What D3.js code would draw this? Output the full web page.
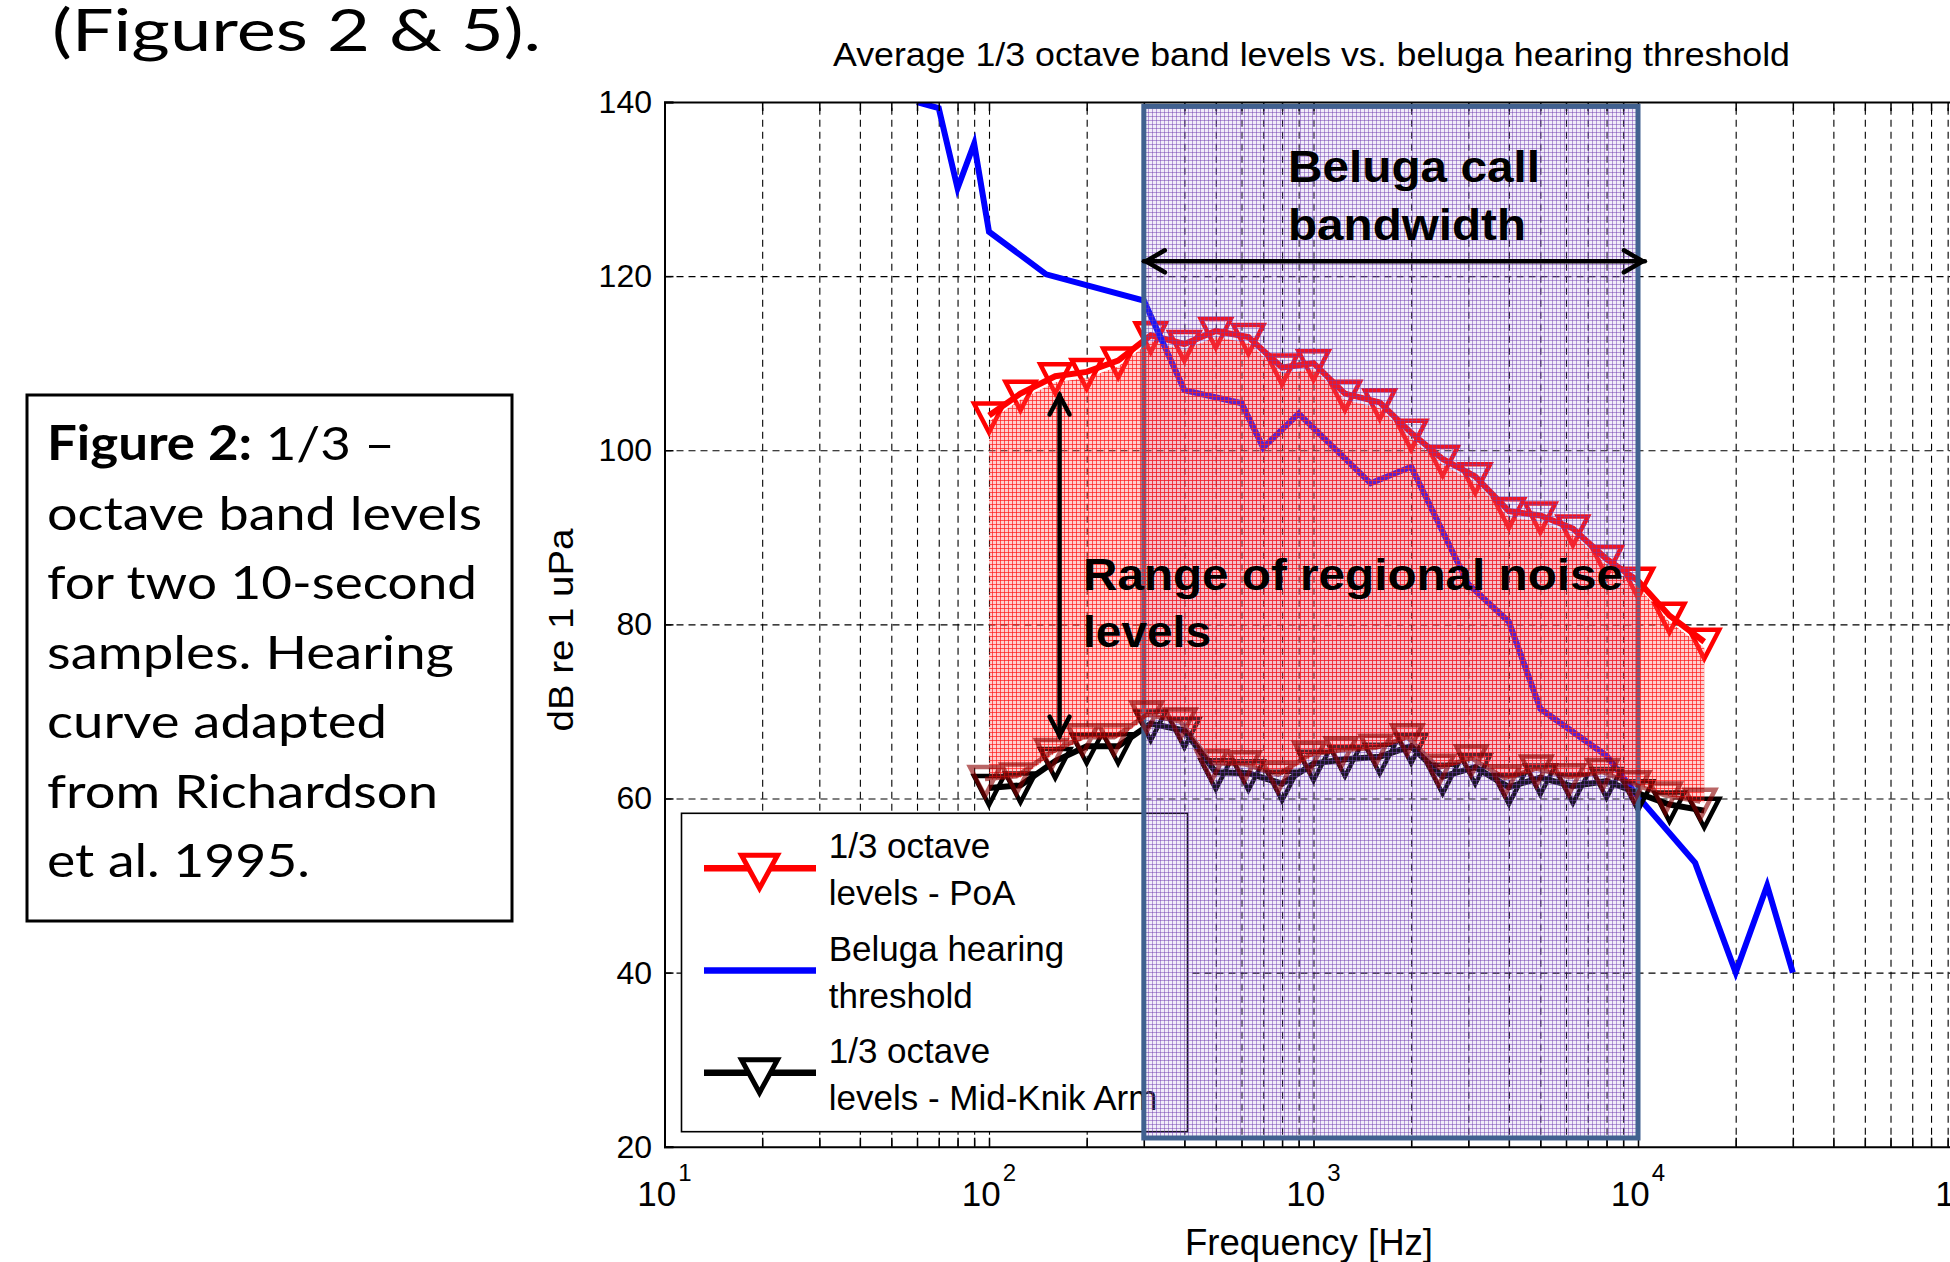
<!DOCTYPE html>
<html><head><meta charset="utf-8">
<script src="https://cdn.jsdelivr.net/npm/d3@7"></script>
<style>
body{margin:0;background:#fff;}
svg{display:block;}
</style></head><body>
<svg id="c" width="1950" height="1262" font-family="'Liberation Sans', Arial, sans-serif"></svg>
<script>
// ---------------- data ----------------
const freqs = [100,125,160,200,250,315,400,500,630,800,1000,1250,1600,2000,2500,3150,4000,5000,6300,8000,10000,12500,16000];
const poaLevels = [104,106.5,108.5,109,110.3,113.2,112.2,113.7,113,109.5,110,106.5,105.5,102,99,97,93,92.5,91,87.5,85,81,78];
const knikLevels = [61.2,61.5,64.3,66,66,68.6,67.8,63,62.9,61.7,64,64.5,64.8,66,62.5,63.6,61.3,62.4,61.4,62,60.6,59.3,58.6];
const thresholdFreqs = [60,70,80,90,100,150,300,400,600,700,900,1500,2000,3000,4000,5000,8000,10000,15000,20000,25000,30000];
const thresholdLevels = [140,139.3,130.1,135.2,125.1,120.2,117.2,106.9,105.4,100.3,104.2,96.2,98.1,84.6,80.3,70.3,64.9,60.2,52.6,40,50,40];
const yTicks = [20,40,60,80,100,120,140];
const xDecades = [10,100,1000,10000,100000];
const xExponents = ["1","2","3","4","5"];
const callBand = [300,10000];          // beluga call bandwidth (Hz)
const callBandLevels = [21,139.5];     // shaded band extent (dB)
const callArrow = {from:300,to:10500,level:121.7};
const rangeArrow = {freq:165,from:106.4,to:67.1};
const legendLabels = [["1/3 octave","levels - PoA"],["Beluga hearing","threshold"],["1/3 octave","levels - Mid-Knik Arm"]];
const legendColors = ["#ff0000","#0000ff","#000000"];
const legendMarkers = [true,false,true];
const captionLines = ["octave band levels","for two 10-second","samples. Hearing","curve adapted","from Richardson","et al. 1995."];
const captionWidths = [435,430,407,340,391,263];

// ---------------- layout ----------------
const svg = d3.select("#c");
const plot = {left:664.5,right:1962.5,top:102,bottom:1146.7};
const x = d3.scaleLog().domain([10,100000]).range([plot.left,plot.right]);
const y = d3.scaleLinear().domain([20,140]).range([plot.bottom,plot.top]);

const defs = svg.append("defs");
defs.append("clipPath").attr("id","plotClip").append("rect")
  .attr("x",plot.left).attr("y",plot.top).attr("width",plot.right-plot.left).attr("height",plot.bottom-plot.top);
const rp = defs.append("pattern").attr("id","redPat").attr("width",4).attr("height",4).attr("patternUnits","userSpaceOnUse");
rp.append("rect").attr("width",4).attr("height",4).attr("fill","rgba(255,80,80,0.28)");
rp.append("rect").attr("width",4).attr("height",1).attr("fill","rgba(255,25,25,0.7)");
rp.append("rect").attr("width",1).attr("height",4).attr("fill","rgba(255,25,25,0.7)");
const pp = defs.append("pattern").attr("id","purPat").attr("width",4).attr("height",4).attr("patternUnits","userSpaceOnUse");
pp.append("rect").attr("width",4).attr("height",4).attr("fill","rgba(170,135,215,0.16)");
pp.append("rect").attr("width",4).attr("height",1).attr("fill","rgba(110,60,175,0.48)");
pp.append("rect").attr("width",1).attr("height",4).attr("fill","rgba(110,60,175,0.48)");

// ---------------- grid ----------------
const minorX = [];
[10,100,1000,10000].forEach(d=>{for(let k=1;k<10;k++) minorX.push(d*k);});
minorX.push(100000);
const gx = svg.append("g").attr("transform",`translate(0,${plot.bottom})`)
  .call(d3.axisBottom(x).tickValues(minorX.filter(v=>v>10&&v<100000)).tickSize(-(plot.bottom-plot.top)).tickFormat(""));
gx.select(".domain").remove();
gx.selectAll("line").attr("stroke","#000").attr("stroke-width",1.1).attr("stroke-dasharray","7,5");
const gy = svg.append("g").attr("transform",`translate(${plot.left},0)`)
  .call(d3.axisLeft(y).tickValues(yTicks.filter(v=>v>20&&v<140)).tickSize(-(plot.right-plot.left)).tickFormat(""));
gy.select(".domain").remove();
gy.selectAll("line").attr("stroke","#000").attr("stroke-width",1.1).attr("stroke-dasharray","7,5");

// ---------------- data layer ----------------
const data = svg.append("g").attr("clip-path","url(#plotClip)");
const poaPts = d3.zip(freqs,poaLevels), knikPts = d3.zip(freqs,knikLevels), thrPts = d3.zip(thresholdFreqs,thresholdLevels);
const line = d3.line().x(d=>x(d[0])).y(d=>y(d[1]));
const tri = "M-15,-12L15,-12L0,17Z";
function series(pts,color,markers){
  const g = data.append("g");
  g.append("path").datum(pts).attr("d",line).attr("fill","none").attr("stroke",color).attr("stroke-width",6).attr("stroke-linejoin","miter");
  if(markers) g.selectAll("path.m").data(pts).enter().append("path").attr("class","m")
    .attr("d",tri).attr("transform",d=>`translate(${x(d[0])},${y(d[1])})`)
    .attr("fill","none").attr("stroke",color).attr("stroke-width",4.5);
}
series(poaPts,"#ff0000",true);
series(thrPts,"#0000ff",false);
series(knikPts,"#000000",true);

// ---------------- axes ----------------
const ax = svg.append("g");
const bt = ax.append("g").attr("transform",`translate(0,${plot.bottom})`).call(d3.axisBottom(x).tickValues(minorX).tickSize(-9).tickFormat(""));
const tp = ax.append("g").attr("transform",`translate(0,${plot.top})`).call(d3.axisTop(x).tickValues(minorX).tickSize(-9).tickFormat(""));
const lf = ax.append("g").attr("transform",`translate(${plot.left},0)`).call(d3.axisLeft(y).tickValues(yTicks).tickSize(-9).tickFormat(""));
[bt,tp,lf].forEach(g=>{g.select(".domain").attr("stroke","#000").attr("stroke-width",2);g.selectAll("line").attr("stroke","#000").attr("stroke-width",1.5);});

// y tick labels
svg.append("g").selectAll("text").data(yTicks).enter().append("text")
  .attr("x",652).attr("y",d=>y(d)+11).attr("text-anchor","end").attr("font-size",32).text(d=>d);
// x tick labels
const xl = svg.append("g").selectAll("text").data(xDecades).enter().append("text")
  .attr("x",d=>x(d)).attr("y",1206).attr("text-anchor","middle").attr("font-size",35);
xl.append("tspan").text("10");
xl.append("tspan").attr("font-size",24).attr("dy",-25).attr("dx",2).text((d,i)=>xExponents[i]);

// ---------------- legend ----------------
const lg = svg.append("g");
lg.append("rect").attr("x",681.5).attr("y",813.3).attr("width",506).attr("height",318.4).attr("fill","#fff").attr("stroke","#000").attr("stroke-width",1.6);
legendLabels.forEach((lab,i)=>{
  const cy = 868.3 + i*102.2;
  lg.append("line").attr("x1",704).attr("x2",816).attr("y1",cy).attr("y2",cy).attr("stroke",legendColors[i]).attr("stroke-width",6.5);
  if(legendMarkers[i]) lg.append("path").attr("d","M-18,-13L18,-13L0,20Z").attr("transform",`translate(759.5,${cy})`)
    .attr("fill","#fff").attr("stroke",legendColors[i]).attr("stroke-width",5);
  lab.forEach((t,j)=>lg.append("text").attr("x",828.7).attr("y",cy-10+j*47).attr("font-size",35).text(t));
});

// ---------------- call band overlay ----------------
svg.append("rect").attr("x",x(callBand[0])).attr("y",y(callBandLevels[1]))
  .attr("width",x(callBand[1])-x(callBand[0])).attr("height",y(callBandLevels[0])-y(callBandLevels[1]))
  .attr("fill","url(#purPat)").attr("stroke","#41618f").attr("stroke-width",5);

// ---------------- regional noise range fill (pasted layer) ----------------
const fillG = svg.append("g").attr("clip-path","url(#plotClip)");
const area = d3.area().x(d=>x(d[0])).y0(d=>y(d[2])-8).y1(d=>y(d[1])+6);
fillG.append("path").datum(freqs.map((f,i)=>[f,poaLevels[i],knikLevels[i]]))
  .attr("d",area).attr("fill","url(#redPat)");
const sh = fillG.append("g").attr("transform","translate(-4,-9)").attr("opacity",0.6);
sh.append("path").datum(knikPts).attr("d",line).attr("fill","none").attr("stroke","#8b0000").attr("stroke-width",4.5);
sh.selectAll("path.m").data(knikPts).enter().append("path").attr("class","m")
  .attr("d",tri).attr("transform",d=>`translate(${x(d[0])},${y(d[1])})`)
  .attr("fill","none").attr("stroke","#8b0000").attr("stroke-width",4.5);

// ---------------- annotations ----------------
const an = svg.append("g").attr("stroke","#000").attr("stroke-width",4.5).attr("fill","none").attr("stroke-linecap","round");
const ay = y(callArrow.level), ax1 = x(callArrow.from), ax2 = x(callArrow.to);
an.append("line").attr("x1",ax1).attr("x2",ax2).attr("y1",ay).attr("y2",ay);
an.append("path").attr("d",`M${ax1+21},${ay-11}L${ax1+2},${ay}L${ax1+21},${ay+11}`);
an.append("path").attr("d",`M${ax2-21},${ay-11}L${ax2-2},${ay}L${ax2-21},${ay+11}`);
const rx = x(rangeArrow.freq), ry1 = y(rangeArrow.from), ry2 = y(rangeArrow.to);
an.append("line").attr("x1",rx).attr("x2",rx).attr("y1",ry1).attr("y2",ry2);
an.append("path").attr("d",`M${rx-10},${ry1+20}L${rx},${ry1+1}L${rx+10},${ry1+20}`);
an.append("path").attr("d",`M${rx-10},${ry2-20}L${rx},${ry2-1}L${rx+10},${ry2-20}`);

const bold = (t,xx,yy,w)=>svg.append("text").attr("x",xx).attr("y",yy).attr("font-size",45).attr("font-weight","bold")
  .attr("textLength",w).attr("lengthAdjust","spacingAndGlyphs").text(t);
bold("Beluga call",1288,182,252);
bold("bandwidth",1288,240,238);
bold("Range of regional noise",1083,590,540);
bold("levels",1083,647,128);

// ---------------- titles ----------------
svg.append("text").attr("x",1311.5).attr("y",66).attr("text-anchor","middle").attr("font-size",34)
  .attr("textLength",957).attr("lengthAdjust","spacingAndGlyphs").text("Average 1/3 octave band levels vs. beluga hearing threshold");
svg.append("text").attr("x",1309).attr("y",1255).attr("text-anchor","middle").attr("font-size",37)
  .attr("textLength",248).attr("lengthAdjust","spacingAndGlyphs").text("Frequency [Hz]");
svg.append("text").attr("transform","translate(573,630) rotate(-90)").attr("text-anchor","middle").attr("font-size",35)
  .attr("textLength",203).attr("lengthAdjust","spacingAndGlyphs").text("dB re 1 uPa");

// ---------------- slide text ----------------
const slideFont = "Lato, 'Open Sans', sans-serif";
svg.append("text").attr("x",52).attr("y",51).style("font-family",slideFont).attr("font-size",58)
  .attr("textLength",489).attr("lengthAdjust","spacingAndGlyphs").text("(Figures 2 & 5).");
svg.append("rect").attr("x",27).attr("y",395).attr("width",485).attr("height",526).attr("fill","none").attr("stroke","#000").attr("stroke-width",3);
const c1 = svg.append("text").attr("x",47).attr("y",460).style("font-family",slideFont).attr("font-size",47)
  .attr("textLength",348).attr("lengthAdjust","spacingAndGlyphs");
c1.append("tspan").attr("font-weight","bold").text("Figure 2:");
c1.append("tspan").text(" 1/3 \u2013");
captionLines.forEach((t,i)=>svg.append("text").attr("x",47).attr("y",460+69.5*(i+1)).style("font-family",slideFont)
  .attr("font-size",47).attr("textLength",captionWidths[i]).attr("lengthAdjust","spacingAndGlyphs").text(t));
</script>
</body></html>
